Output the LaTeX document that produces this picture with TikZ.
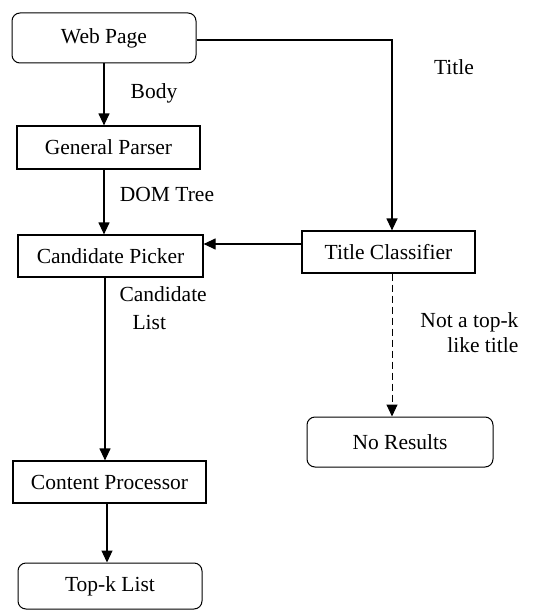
\documentclass[tikz,border=0pt]{standalone}
\usepackage{fontspec}
\setmainfont{Liberation Serif}
\usepackage{tikz}
\usetikzlibrary{arrows.meta}

\begin{document}
\begin{tikzpicture}[x=1pt, y=-1pt, line width=1.2pt,
    >={Triangle[width=11pt, length=12pt]},
    font=\fontsize{21.5}{25}\selectfont,
    box/.style={draw, inner sep=0pt},
    rbox/.style={box, rounded corners=8pt, line width=1pt},
    lbl/.style={inner sep=0pt}]
    \useasboundingbox (0, 0) rectangle (534, 610);
    \node[rbox, minimum width=184pt, minimum height=50pt] (web) at (104, 38){Web Page};
    \node[box, minimum width=183pt, minimum height=43pt] (parser) at (108.5, 147.5){General Parser};
    \node[box, minimum width=185pt, minimum height=42pt] (picker) at (110.5, 256){Candidate Picker};
    \node[box, minimum width=173pt, minimum height=42pt] (classifier) at (388.5, 252){Title Classifier};
    \node[box, minimum width=193pt, minimum height=42pt] (content) at (109.5, 482){Content Processor};
    \node[rbox, minimum width=184pt, minimum height=46pt] (topk) at (110, 586){Top-k List};
    \node[rbox, minimum width=186pt, minimum height=50pt] (noresult) at (400, 442){No Results};
    \node[lbl] (body) at (154, 93){Body};
    \node[lbl] (title) at (454, 67){Title};
    \node[lbl] (dom) at (167, 194){DOM Tree};
    \node[lbl, align=left, anchor=west, font=\fontsize{21.5}{28}\selectfont] (cand) at (119, 308){Candidate\\\hspace*{13pt}List};
    \node[lbl, align=right, anchor=east] (nottopk) at (519, 333){Not a top-k\\like title};
    \draw[->] (web.south) -- (web.south |- parser.north);
    \draw[->] ([yshift=-2pt]web.east) -| ([xshift=3.5pt]classifier.north);
    \draw[->] (parser.south -| web.south) -- (picker.north -| web.south);
    \draw[->] ([yshift=8pt]classifier.west) -- ([yshift=8pt]classifier.west -| picker.east);
    \draw[->] (picker.south -| 105, 0) -- (content.north -| 105, 0);
    \draw[->] (content.south -| 107, 0) -- (topk.north -| 107, 0);
    \draw[->, dash pattern=on 7pt off 4pt, line width=1pt] ([xshift=3.5pt]classifier.south) -- ([xshift=3.5pt]classifier.south |- noresult.north);
  \end{tikzpicture}
\end{document}
